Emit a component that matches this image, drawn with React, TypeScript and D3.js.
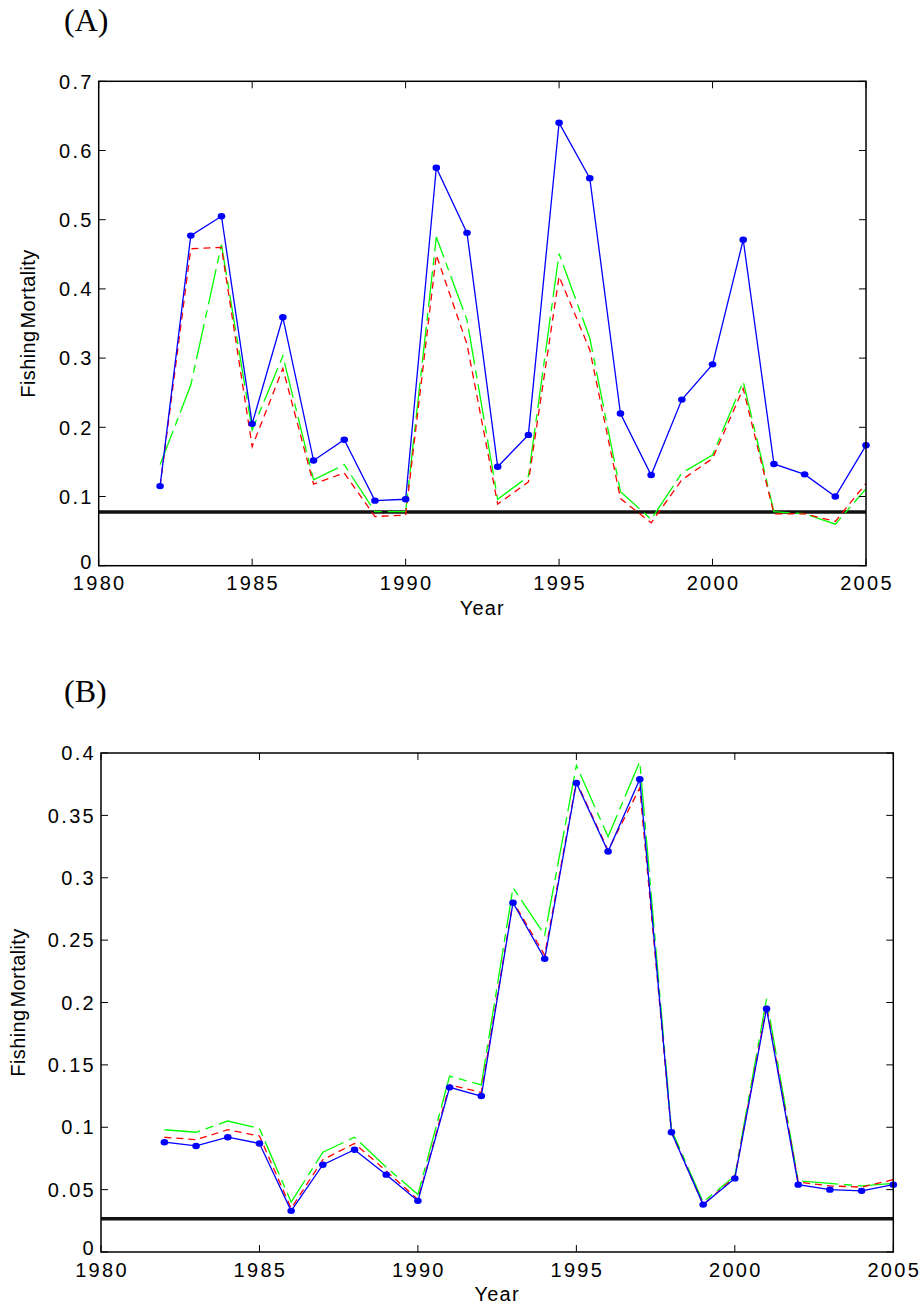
import React, { useEffect, useRef } from 'react';
import * as d3 from 'd3';

// years on the x axis
const years = [1982, 1983, 1984, 1985, 1986, 1987, 1988, 1989, 1990, 1991, 1992, 1993,
    1994, 1995, 1996, 1997, 1998, 1999, 2000, 2001, 2002, 2003, 2004, 2005];

// panel (A)
const aSolid = [0.115, 0.477, 0.505, 0.205, 0.359, 0.152, 0.182, 0.094, 0.096, 0.575, 0.481, 0.143,
    0.189, 0.640, 0.560, 0.220, 0.131, 0.240, 0.291, 0.471, 0.147, 0.132, 0.100, 0.174];
const aDashed = [0.115, 0.458, 0.460, 0.172, 0.285, 0.118, 0.134, 0.071, 0.073, 0.449, 0.320, 0.089,
    0.121, 0.418, 0.312, 0.097, 0.062, 0.124, 0.155, 0.256, 0.075, 0.075, 0.064, 0.119];
const aDashDot = [0.146, 0.261, 0.464, 0.196, 0.303, 0.124, 0.146, 0.078, 0.078, 0.475, 0.355, 0.096,
    0.129, 0.451, 0.329, 0.107, 0.067, 0.134, 0.160, 0.266, 0.078, 0.075, 0.060, 0.111];
const aReference = 0.0776;
const aYTicks = [0, 0.1, 0.2, 0.3, 0.4, 0.5, 0.6, 0.7];

// panel (B)
const bSolid = [0.088, 0.085, 0.092, 0.087, 0.033, 0.070, 0.082, 0.062, 0.041, 0.132, 0.125, 0.280,
    0.235, 0.376, 0.321, 0.379, 0.096, 0.038, 0.059, 0.195, 0.054, 0.050, 0.049, 0.054];
const bDashed = [0.092, 0.090, 0.098, 0.093, 0.035, 0.074, 0.087, 0.065, 0.042, 0.134, 0.128, 0.281,
    0.238, 0.377, 0.322, 0.372, 0.096, 0.038, 0.060, 0.197, 0.056, 0.053, 0.052, 0.058];
const bDashDot = [0.098, 0.096, 0.105, 0.099, 0.040, 0.080, 0.092, 0.068, 0.046, 0.141, 0.134, 0.292,
    0.254, 0.390, 0.333, 0.393, 0.098, 0.040, 0.061, 0.203, 0.057, 0.055, 0.053, 0.055];
const bReference = 0.0267;
const bYTicks = [0, 0.05, 0.1, 0.15, 0.2, 0.25, 0.3, 0.35, 0.4];

const xTicks = [1980, 1985, 1990, 1995, 2000, 2005];

const FONT = "'Liberation Sans', Arial, sans-serif";

const drawPanel = (svg, p) => {
    const g = svg.append('g');
    const x = d3.scaleLinear().domain([1980, 2005]).range([p.left, p.right]);
    const y = d3.scaleLinear().domain([0, p.yMax]).range([p.bottom, p.top]);
    const tick = 7;

    // panel letter
    g.append('text')
        .attr('x', 64)
        .attr('y', p.letterY)
        .attr('font-family', "'Liberation Serif', 'Times New Roman', serif")
        .attr('font-size', 32)
        .text(p.letter);

    // reference line
    g.append('line')
        .attr('x1', x(1980))
        .attr('x2', x(2005))
        .attr('y1', y(p.reference))
        .attr('y2', y(p.reference))
        .attr('stroke', '#111')
        .attr('stroke-width', 3.5);

    const line = (vals) =>
        d3.line().x((d, i) => x(years[i])).y((d) => y(d))(vals);

    g.append('path')
        .attr('d', line(p.dashDot))
        .attr('fill', 'none')
        .attr('stroke', '#00ff00')
        .attr('stroke-width', 1.3)
        .attr('stroke-dasharray', '36,6,8,6');

    g.append('path')
        .attr('d', line(p.dashed))
        .attr('fill', 'none')
        .attr('stroke', '#ff0000')
        .attr('stroke-width', 1.3)
        .attr('stroke-dasharray', '7,5');

    g.append('path')
        .attr('d', line(p.solid))
        .attr('fill', 'none')
        .attr('stroke', '#0000ff')
        .attr('stroke-width', 1.3);

    g.selectAll('ellipse')
        .data(p.solid)
        .enter()
        .append('ellipse')
        .attr('cx', (d, i) => x(years[i]))
        .attr('cy', (d) => y(d))
        .attr('rx', 3.8)
        .attr('ry', 3.2)
        .attr('fill', '#0000ff');

    // box
    g.append('rect')
        .attr('x', p.left)
        .attr('y', p.top)
        .attr('width', p.right - p.left)
        .attr('height', p.bottom - p.top)
        .attr('fill', 'none')
        .attr('stroke', '#000')
        .attr('stroke-width', 1.5);

    // x ticks (top and bottom, pointing in)
    xTicks.forEach((t) => {
        g.append('line')
            .attr('x1', x(t)).attr('x2', x(t))
            .attr('y1', p.bottom).attr('y2', p.bottom - tick)
            .attr('stroke', '#000');
        g.append('line')
            .attr('x1', x(t)).attr('x2', x(t))
            .attr('y1', p.top).attr('y2', p.top + tick)
            .attr('stroke', '#000');
        g.append('text')
            .attr('x', x(t) + 1)
            .attr('y', p.xLabelY)
            .attr('text-anchor', 'middle')
            .attr('font-family', FONT)
            .attr('font-size', 20)
            .attr('letter-spacing', 2.3)
            .text(t);
    });

    // y ticks (left and right)
    p.yTicks.forEach((t) => {
        g.append('line')
            .attr('x1', p.left).attr('x2', p.left + tick)
            .attr('y1', y(t)).attr('y2', y(t))
            .attr('stroke', '#000');
        g.append('line')
            .attr('x1', p.right).attr('x2', p.right - tick)
            .attr('y1', y(t)).attr('y2', y(t))
            .attr('stroke', '#000');
        g.append('text')
            .attr('x', p.left - 5)
            .attr('y', y(t) - (t === 0 ? 4 : 0))
            .attr('dy', '0.36em')
            .attr('text-anchor', 'end')
            .attr('font-family', FONT)
            .attr('font-size', 20)
            .attr('letter-spacing', 2.3)
            .text(String(t));
    });

    // axis titles
    g.append('text')
        .attr('x', (p.left + p.right) / 2)
        .attr('y', p.xTitleY)
        .attr('text-anchor', 'middle')
        .attr('font-family', FONT)
        .attr('font-size', 20)
        .attr('letter-spacing', 1.2)
        .text('Year');

    g.append('text')
        .attr('transform', `translate(${p.yTitleX}, ${(p.top + p.bottom) / 2}) rotate(-90)`)
        .attr('text-anchor', 'middle')
        .attr('font-family', FONT)
        .attr('font-size', 20)
        .attr('letter-spacing', 0.4)
        .attr('word-spacing', -4)
        .text('Fishing Mortality');
};

const App = () => {
    const ref = useRef(null);

    useEffect(() => {
        const svg = d3.select(ref.current);
        svg.selectAll('*').remove();

        drawPanel(svg, {
            letter: '(A)', letterY: 31,
            left: 98.7, right: 866, top: 81.3, bottom: 565.7,
            yMax: 0.7, yTicks: aYTicks, reference: aReference,
            solid: aSolid, dashed: aDashed, dashDot: aDashDot,
            xLabelY: 590, xTitleY: 615, yTitleX: 35,
        });

        drawPanel(svg, {
            letter: '(B)', letterY: 702,
            left: 101, right: 893.3, top: 753, bottom: 1252,
            yMax: 0.4, yTicks: bYTicks, reference: bReference,
            solid: bSolid, dashed: bDashed, dashDot: bDashDot,
            xLabelY: 1277, xTitleY: 1301, yTitleX: 25,
        });
    }, []);

    return (
        <svg
            ref={ref}
            width={921}
            height={1306}
            style={{ position: 'absolute', left: 0, top: 0, background: '#fff' }}
        />
    );
};

export default App;
